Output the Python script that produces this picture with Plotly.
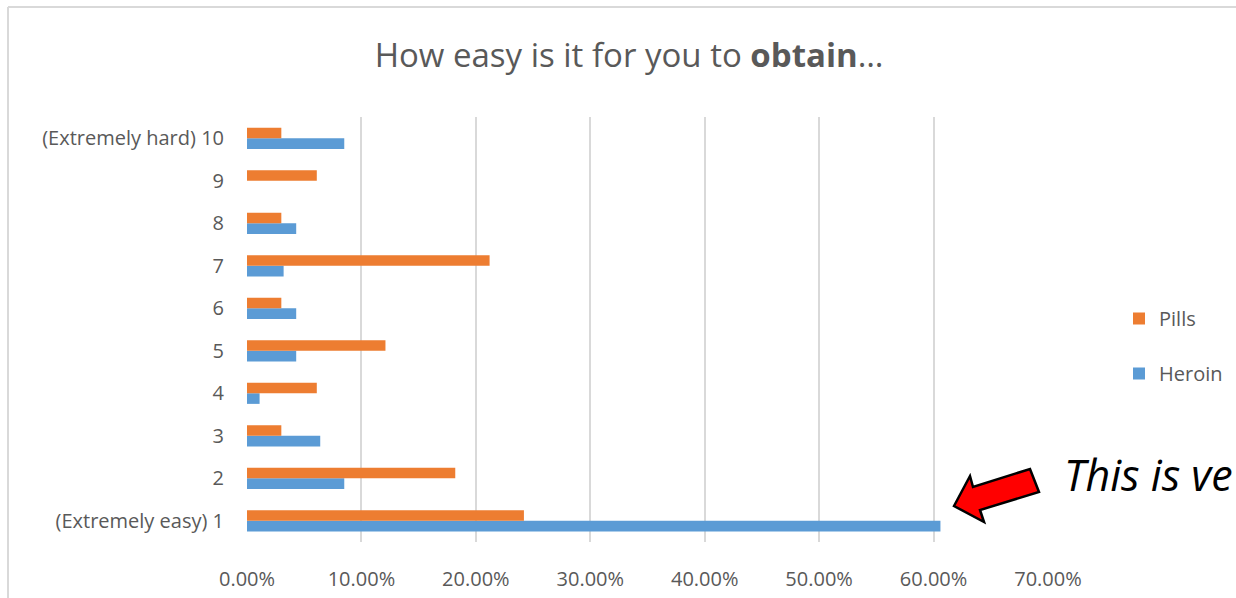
import plotly.graph_objects as go

# Survey answers: ease of obtaining, 1 = extremely easy ... 10 = extremely hard
categories = ["(Extremely easy) 1", "2", "3", "4", "5", "6", "7", "8", "9", "(Extremely hard) 10"]
heroin = [0.606, 0.085, 0.064, 0.011, 0.043, 0.043, 0.032, 0.043, 0.0, 0.085]
pills = [0.242, 0.182, 0.030, 0.061, 0.121, 0.030, 0.212, 0.030, 0.061, 0.030]
x_ticks = [0, 0.1, 0.2, 0.3, 0.4, 0.5, 0.6, 0.7]

W, H = 1236, 598
M_L, M_R, M_T, M_B = 247, 188, 117, 56
PW, PH = W - M_L - M_R, H - M_T - M_B

GRAY_TEXT = "#595959"
GRID = "#d9d9d9"
FONT = "'Open Sans', Lato, sans-serif"


def px(x):
    """Pixel x -> paper fraction."""
    return (x - M_L) / PW


def py(y):
    """Pixel y (from top) -> paper fraction."""
    return (H - M_B - y) / PH


fig = go.Figure()
fig.add_trace(go.Bar(
    y=categories, x=heroin, name="Heroin", orientation="h",
    marker=dict(color="#5B9BD5", line=dict(width=0)),
    legendgroup="h", legendrank=2,
))
fig.add_trace(go.Bar(
    y=categories, x=pills, name="Pills", orientation="h",
    marker=dict(color="#ED7D31", line=dict(width=0)),
    legendgroup="p", legendrank=1,
))

# Red callout arrow pointing at the long Heroin bar
arrow_pts = [(954, 506), (970, 476), (973, 487), (1030, 469),
             (1039, 492), (980, 510), (984, 522)]
path = "M " + " L ".join(f"{px(x):.5f},{py(y):.5f}" for x, y in arrow_pts) + " Z"

shapes = [
    dict(type="path", xref="paper", yref="paper", path=path,
         fillcolor="#ff0000", line=dict(color="black", width=2.5)),
    # chart frame (top and left edges)
    dict(type="line", xref="paper", yref="paper", x0=px(8), x1=px(1240),
         y0=py(7), y1=py(7), line=dict(color=GRID, width=2)),
    dict(type="line", xref="paper", yref="paper", x0=px(8), x1=px(8),
         y0=py(7), y1=py(600), line=dict(color=GRID, width=2)),
]

fig.update_layout(
    width=W, height=H,
    margin=dict(l=M_L, r=M_R, t=M_T, b=M_B, autoexpand=False),
    paper_bgcolor="white", plot_bgcolor="white",
    barmode="group", bargap=0.5, bargroupgap=0,
    font=dict(family=FONT, color=GRAY_TEXT, size=20),
    title=dict(
        text="How easy is it for you to <b>obtain</b>…",
        x=629 / W, xanchor="center", xref="container",
        y=1 - 55 / H, yanchor="middle", yref="container",
        font=dict(family=FONT, size=33, color=GRAY_TEXT),
    ),
    xaxis=dict(
        range=[0, 0.7], tickvals=x_ticks, tickformat=".2%",
        showgrid=True, gridcolor=GRID, gridwidth=2,
        zeroline=False, showline=False, ticks="",
        ticklabelstandoff=23, automargin=False,
        tickfont=dict(size=20, color=GRAY_TEXT),
        fixedrange=True,
    ),
    yaxis=dict(
        type="category", categoryorder="array", categoryarray=categories,
        showgrid=False, zeroline=False, showline=False, ticks="",
        ticklabelstandoff=22, automargin=False,
        tickfont=dict(size=20, color=GRAY_TEXT),
        fixedrange=True,
    ),
    legend=dict(
        x=px(1119), xanchor="left", y=py(346), yanchor="middle",
        traceorder="grouped", tracegroupgap=26,
        font=dict(size=20, color=GRAY_TEXT),
        bgcolor="rgba(0,0,0,0)",
    ),
    shapes=shapes,
    annotations=[
        dict(text="<i>This is ve</i>", xref="paper", yref="paper",
             x=px(1062), y=py(474), xanchor="left", yanchor="middle",
             showarrow=False, font=dict(family=FONT, size=43, color="black")),
    ],
)

fig.write_html("out.html")
